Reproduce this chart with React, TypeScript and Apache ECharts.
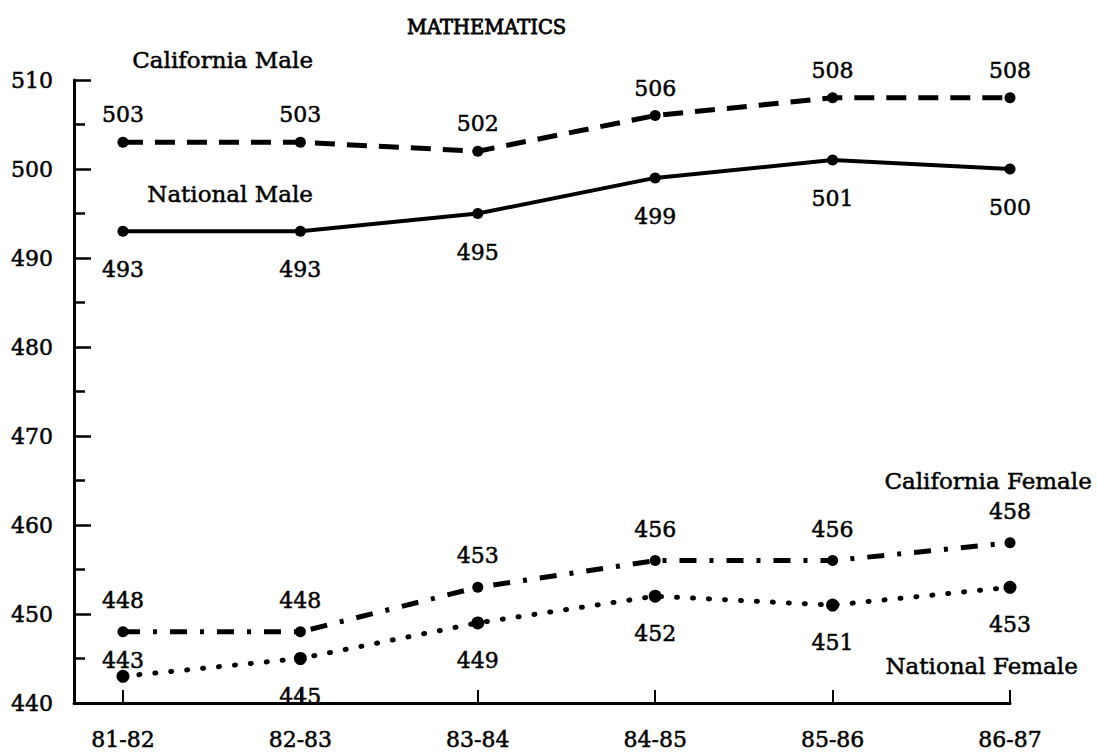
import React, { useEffect, useRef } from "react";
import * as echarts from "echarts";

const categories = ["81-82", "82-83", "83-84", "84-85", "85-86", "86-87"];
const californiaMale = [503, 503, 502, 506, 508, 508];
const nationalMale = [493, 493, 495, 499, 501, 500];
const californiaFemale = [448, 448, 453, 456, 456, 458];
const nationalFemale = [443, 445, 449, 452, 451, 453];
const yTicks = [440, 450, 460, 470, 480, 490, 500, 510];

const FONT = "DejaVu Serif";
const INK = { textBorderColor: "#000", textBorderWidth: 0.5 };

export default function App() {
  const ref = useRef<HTMLDivElement>(null);
  useEffect(() => {
    if (!ref.current) return;
    const chart = echarts.init(ref.current, null, { renderer: "svg" });
    const pts = (vals: number[]) => vals.map((v, i) => [i, v]);
    const labelBase = { show: true, fontSize: 22, fontFamily: FONT, color: "#000", ...INK };
    const idx = categories.map((_, i) => i);
    const nameStyle = { fontSize: 23, fontFamily: FONT, fill: "#000", stroke: "#000", lineWidth: 0.5 };
    chart.setOption({
      animation: false,
      backgroundColor: "#fff",
      title: {
        text: "MATHEMATICS",
        left: 402,
        top: 12,
        textStyle: { fontSize: 19.5, fontWeight: "normal", fontFamily: FONT, color: "#000", ...INK, textBorderWidth: 0.8 },
      },
      grid: { left: 74, right: 87, top: 80, bottom: 53, containLabel: false },
      xAxis: {
        type: "value",
        min: -0.276,
        max: 5,
        axisLine: { onZero: false, lineStyle: { color: "#000", width: 3 } },
        axisTick: { inside: true, length: 13, customValues: idx, lineStyle: { color: "#000", width: 2 } },
        axisLabel: {
          customValues: idx,
          formatter: (v: number) => categories[Math.round(v)] ?? "",
          fontSize: 22,
          fontFamily: FONT,
          color: "#000",
          margin: 25,
          ...INK,
        },
        splitLine: { show: false },
      },
      yAxis: {
        type: "value",
        min: yTicks[0],
        max: yTicks[yTicks.length - 1],
        interval: 10,
        axisLine: { show: true, onZero: false, lineStyle: { color: "#000", width: 3 } },
        axisTick: { show: true, inside: true, length: 17, lineStyle: { color: "#000", width: 2.5 } },
        minorTick: { show: true, splitNumber: 2, length: 11, lineStyle: { color: "#000", width: 2.5 } },
        axisLabel: { fontSize: 22, fontFamily: FONT, color: "#000", margin: 21, ...INK },
        splitLine: { show: false },
      },
      graphic: [
        { type: "text", left: 132, top: 48, style: { text: "California Male", ...nameStyle } },
        { type: "text", left: 147, top: 182, style: { text: "National Male", ...nameStyle } },
        { type: "text", right: 5, top: 469, style: { text: "California Female", ...nameStyle } },
        { type: "text", right: 19, top: 654, style: { text: "National Female", ...nameStyle } },
      ],
      series: [
        {
          name: "California Male",
          type: "line",
          data: pts(californiaMale),
          symbol: "circle",
          symbolSize: 11,
          itemStyle: { color: "#000" },
          lineStyle: { color: "#000", width: 5, type: [20, 12] },
          label: { ...labelBase, position: "top", distance: 11 },
        },
        {
          name: "National Male",
          type: "line",
          data: pts(nationalMale),
          symbol: "circle",
          symbolSize: 11,
          itemStyle: { color: "#000" },
          lineStyle: { color: "#000", width: 4, type: "solid" },
          label: { ...labelBase, position: "bottom", distance: 22 },
        },
        {
          name: "California Female",
          type: "line",
          data: pts(californiaFemale),
          symbol: "circle",
          symbolSize: 11,
          itemStyle: { color: "#000" },
          lineStyle: { color: "#000", width: 5, type: [17, 13, 4, 13] },
          label: { ...labelBase, position: "top", distance: 15 },
        },
        {
          name: "National Female",
          type: "line",
          data: pts(nationalFemale).map((p, i) =>
            i === 0 ? { value: p, label: { position: "top", distance: -2 } } : { value: p }
          ),
          symbol: "circle",
          symbolSize: 13,
          itemStyle: { color: "#000" },
          lineStyle: { color: "#000", width: 5, type: [1, 15], cap: "round" },
          label: { ...labelBase, position: "bottom", distance: 20 },
        },
      ],
    });
    return () => chart.dispose();
  }, []);
  return (
    <div
      ref={ref}
      style={{ position: "absolute", left: 0, top: 0, width: 1097, height: 756, background: "#fff" }}
    />
  );
}
